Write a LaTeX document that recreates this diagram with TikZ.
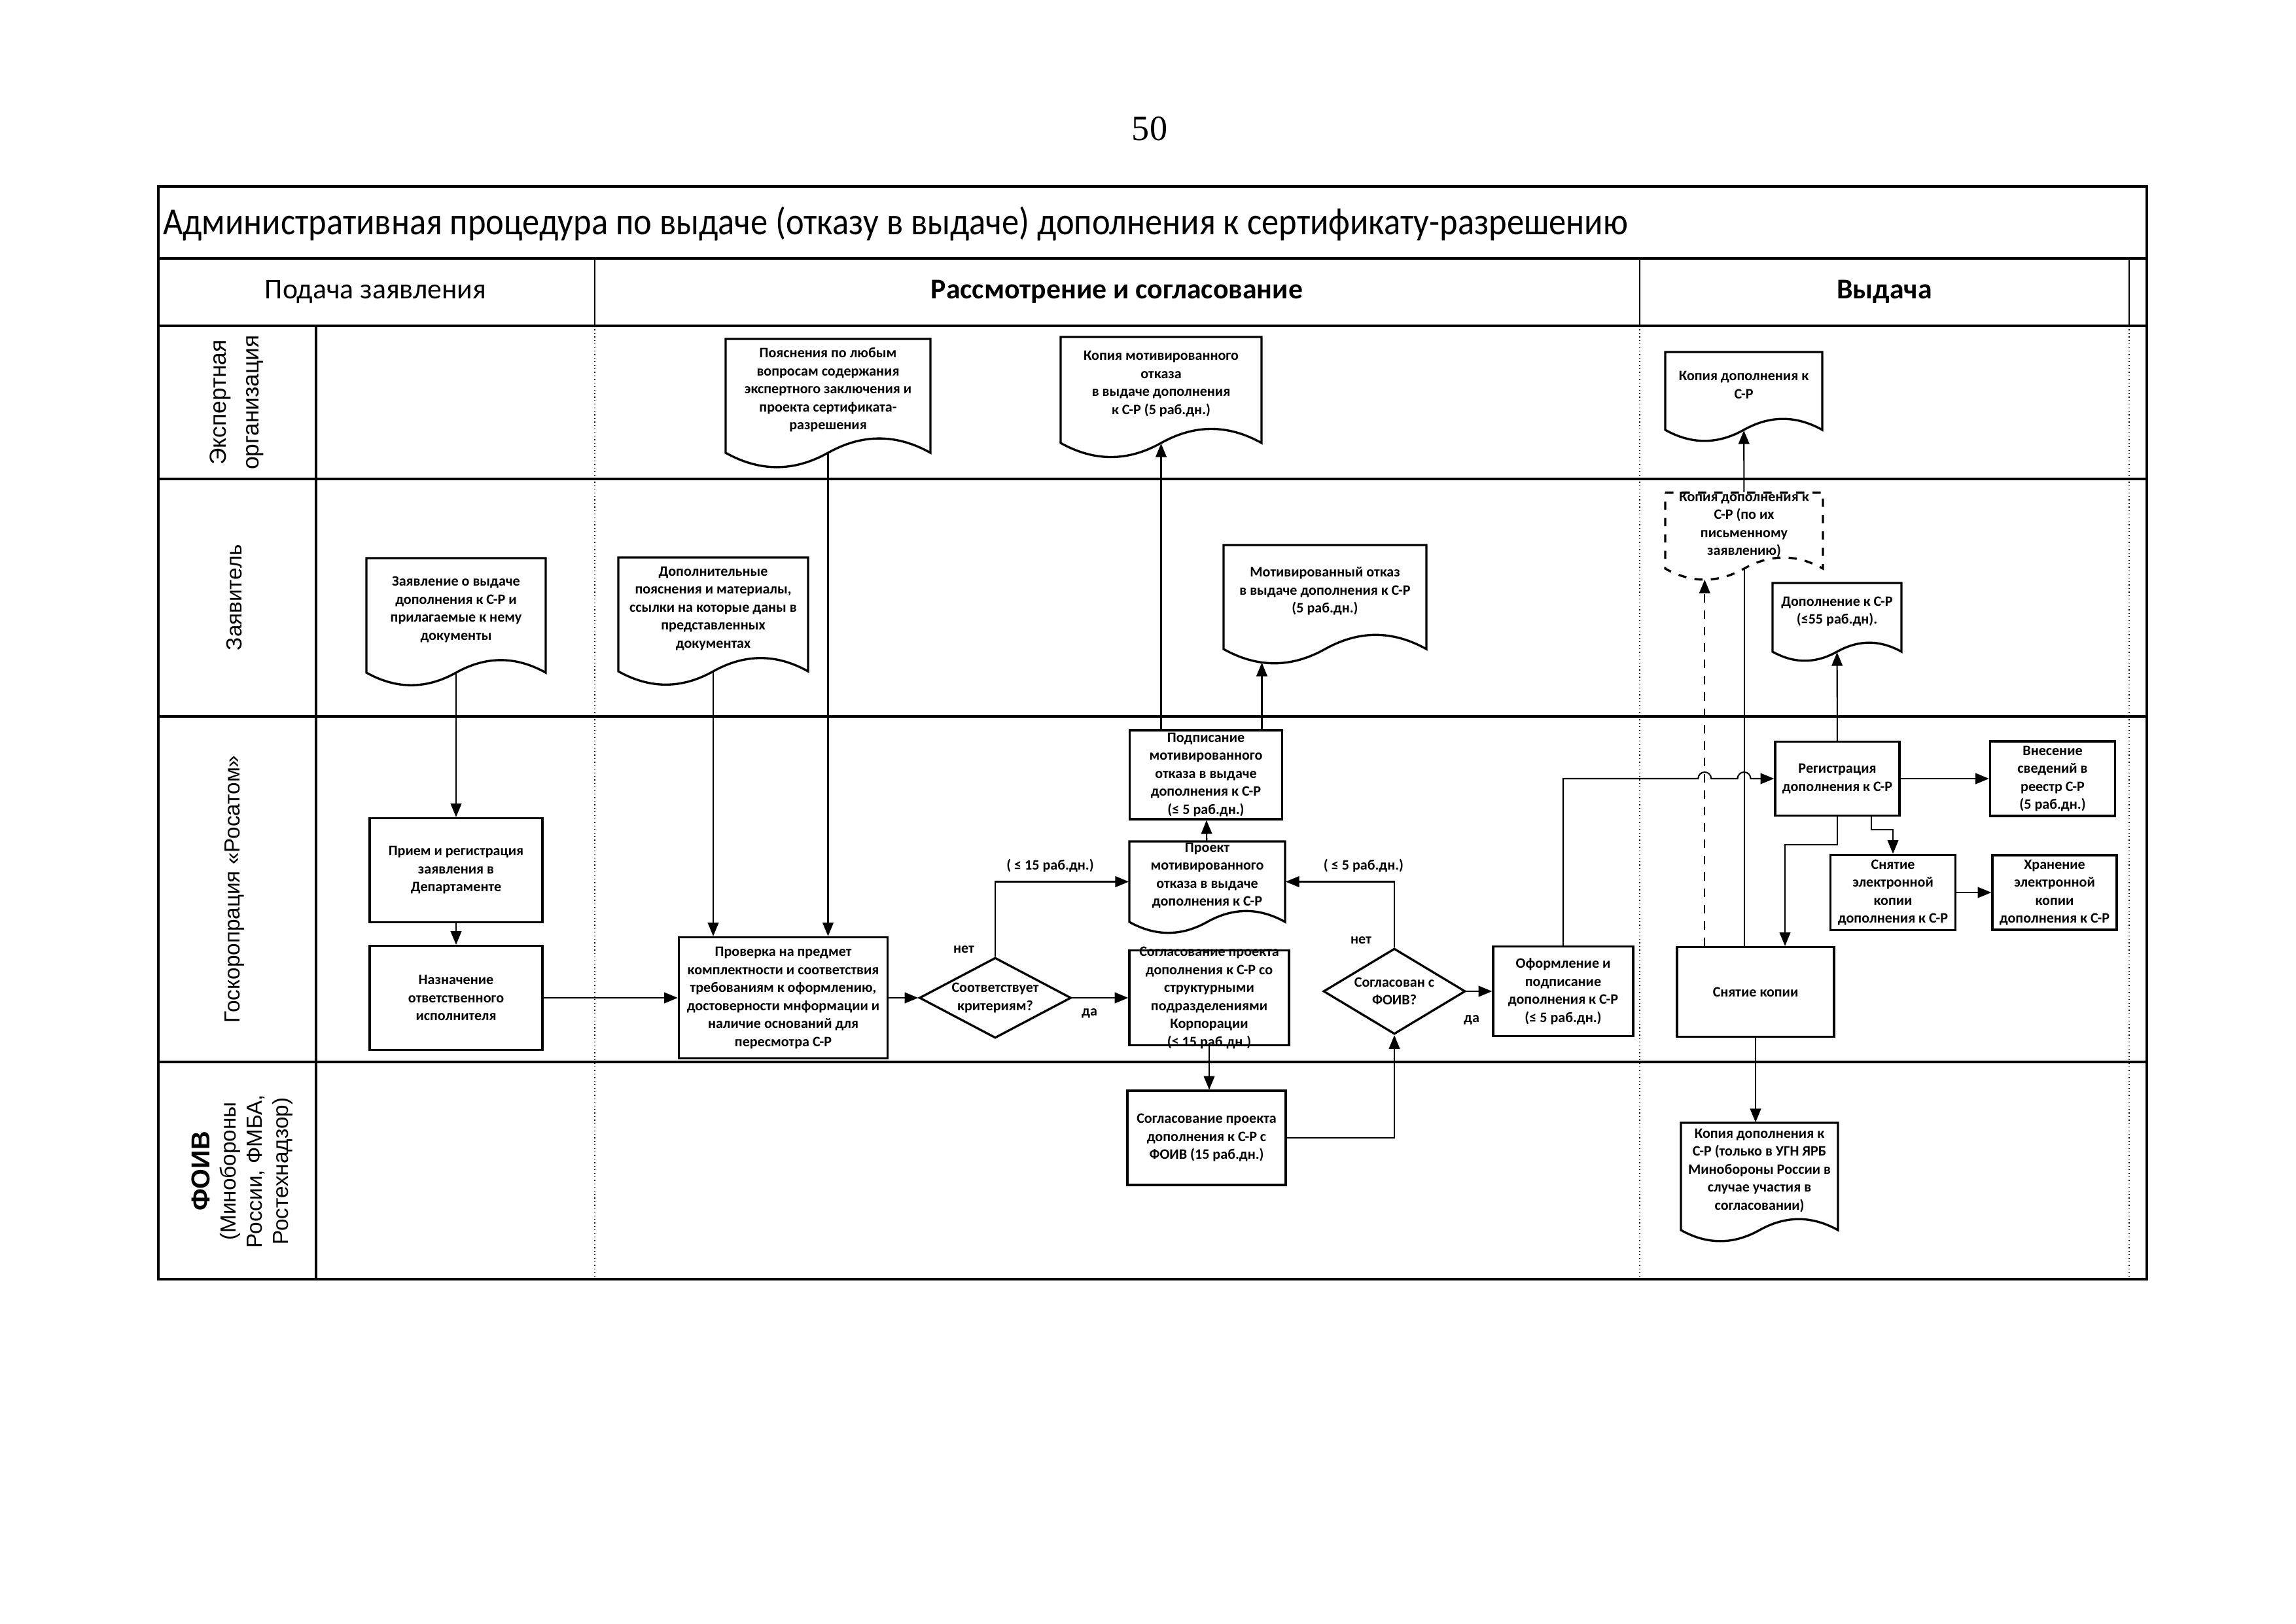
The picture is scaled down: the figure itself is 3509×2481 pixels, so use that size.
\documentclass[tikz,border=0pt]{standalone}
\usepackage{fontspec}
\setmainfont{Carlito}
\newfontfamily\titlefont[FakeStretch=0.9]{Carlito}
\newfontfamily\lanefont{Liberation Sans}
\newfontfamily\pagefont{Liberation Serif}
\usetikzlibrary{shapes.geometric,arrows.meta,calc}

\newcommand\pxu{0.24pt}
\newcommand\boxfont{\fontsize{5.3}{6.6}\selectfont\bfseries}

%% document shape: outline with wavy bottom, then a named node over it
\newcommand\docnode[7][]{%
  \pgfmathsetmacro\wamp{0.07*#5}%
  \draw[docline,#1] (#3,#4) -- ({#3+#5},#4) -- ({#3+#5},{#4+#6})
    .. controls ({#3+#5*5/6},{#4+#6-4/3*\wamp}) and ({#3+#5*2/3},{#4+#6-4/3*\wamp}) .. ({#3+#5/2},{#4+#6})
    .. controls ({#3+#5/3},{#4+#6+4/3*\wamp}) and ({#3+#5/6},{#4+#6+4/3*\wamp}) .. (#3,{#4+#6}) -- cycle;
  \node[docarea, minimum width=#5*\pxu, minimum height=#6*\pxu,
    label={[doctext]center:{#7}}] (#2) at ({#3+#5/2},{#4+#6/2}) {};
  \coordinate (#2-trough) at ({#3+#5/4},{#4+#6+\wamp});
}

\begin{document}
\begin{tikzpicture}
[x=\pxu, y=-\pxu,
  frame/.style={line width=1pt},
  thinline/.style={line width=0.4pt},
  dotline/.style={line width=0.3pt, densely dotted},
  procbox/.style={draw, line width=0.8pt, fill=white, align=center, font=\boxfont, inner xsep=1pt, inner ysep=-4pt},
  decision/.style={draw, diamond, line width=0.8pt, fill=white, inner sep=0pt},
  docline/.style={draw, line width=0.8pt, fill=white},
  docarea/.style={inner sep=0pt},
  doctext/.style={align=center, font=\boxfont, inner sep=0pt, yshift=2.2pt},
  boxlabel/.style={align=center, font=\boxfont, inner sep=0pt},
  lanelbl/.style={rotate=90, align=center, font=\lanefont\fontsize{8}{9.6}\selectfont},
  arr/.style={-{Triangle[length=5pt,width=4pt]}, line width=0.5pt}]
\useasboundingbox (0,0) rectangle (3509,2481);

%% page number, title and phases
\node[font=\pagefont\fontsize{13}{15}\selectfont] (pagenum) at (1757,197) {50};
\draw[frame] (242,285) rectangle (3281,1955);
\foreach \y in {395, 498, 732, 1095, 1623} {
  \draw[frame] (242,\y) -- (3281,\y);
}
\draw[frame] (483,498) -- (483,1955);
\foreach \x in {909, 2506, 3254} {
  \draw[thinline] (\x,395) -- (\x,498);
  \draw[dotline] (\x,498) -- (\x,1955);
}
\node[anchor=west, inner xsep=1pt, font=\titlefont\fontsize{14}{16}\selectfont] (title) at (244,342)
  {Административная процедура по выдаче (отказу в выдаче) дополнения к сертификату-разрешению};
\node[font=\fontsize{10.5}{12}\selectfont] (ph1) at (574,446) {Подача заявления};
\node[font=\fontsize{10.5}{12}\selectfont\bfseries] (ph2) at (1707,446) {Рассмотрение и согласование};
\node[font=\fontsize{10.5}{12}\selectfont\bfseries] (ph3) at (2880,446) {Выдача};

%% lanes
\node[lanelbl, font=\lanefont\fontsize{8.5}{12}\selectfont] (lexp) at (362,615) {Экспертная\\организация};
\node[lanelbl] (lzay) at (358,913) {Заявитель};
\node[lanelbl] (lgos) at (358,1359) {Госкоропрация «Росатом»};
\node[lanelbl] (lfoiv) at (370,1790)
  {{\bfseries\fontsize{9.5}{10}\selectfont ФОИВ}\\(Минобороны\\России, ФМБА,\\Ростехнадзор)};

%% documents
\foreach \nodename/\x/\y/\w/\h/\txt in {
  poyas/1109/518/313/174/{Пояснения по любым\\вопросам содержания\\экспертного заключения и\\проекта сертификата-\\разрешения},
  kopotk/1621/515/307/162/{Копия мотивированного\\отказа\\в выдаче дополнения\\к С-Р (5 раб.дн.)},
  kopdop/2545/538/240/119/{Копия дополнения к\\С-Р},
  zayav/560/853/274/175/{Заявление о  выдаче\\дополнения к С-Р и\\прилагаемые к нему\\документы},
  dopmat/945/852/290/174/{Дополнительные\\пояснения и материалы,\\ссылки на которые даны в\\представленных\\документах},
  mototk/1870/833/310/159/{Мотивированный отказ\\в выдаче дополнения к С-Р\\(5 раб.дн.)},
  dopcr/2709/891/197/105/{Дополнение к С-Р\\(≤55 раб.дн).},
  proekt/1726/1286/238/123/{Проект\\мотивированного\\отказа в выдаче\\дополнения к С-Р},
  kopfoiv/2569/1716/240/164/{Копия дополнения к\\С-Р (только в УГН ЯРБ\\Минобороны России в\\случае участия в\\согласовании)}} {
  \docnode{\nodename}{\x}{\y}{\w}{\h}{\txt}
}
\docnode[dashed]{kopzay}{2545}{753}{241}{116}{Копия дополнения к\\С-Р (по их\\письменному\\заявлению)}
\coordinate (mototk-in) at ($(mototk-trough)+(-19,-1)$);

%% process boxes
\foreach \nodename/\x/\y/\w/\h/\txt in {
  priem/697/1330/264/159/{Прием и регистрация\\заявления в\\Департаменте},
  naznach/697/1525/264/159/{Назначение\\ответственного\\исполнителя},
  prov/1197/1525/319/185/{Проверка на предмет\\комплектности и соответствия\\требованиям к оформлению,\\достоверности мнформации и\\наличие оснований для\\пересмотра С-Р},
  podp/1843/1184/233/136/{Подписание\\мотивированного\\отказа в выдаче\\дополнения к С-Р\\(≤ 5 раб.дн.)},
  soglstr/1848/1525/244/145/{Согласование проекта\\дополнения к С-Р со\\структурными\\подразделениями\\Корпорации\\(≤ 15 раб.дн.)},
  soglfoiv/1844/1739/242/144/{Согласование проекта\\дополнения к С-Р с\\ФОИВ (15 раб.дн.)},
  oform/2389/1515/214/137/{Оформление и\\подписание\\дополнения к С-Р\\(≤ 5 раб.дн.)},
  reg/2808/1190/190/113/{Регистрация\\дополнения к С-Р},
  vnes/3137/1190/191/114/{Внесение\\сведений в\\реестр С-Р\\(5 раб.дн.)},
  snel/2893/1364/191/115/{Снятие\\электронной\\копии\\дополнения к С-Р},
  hran/3140/1364/190/114/{Хранение\\электронной\\копии\\дополнения к С-Р},
  snkop/2683/1516/240/137/{Снятие копии}} {
  \node[procbox, minimum width=\w*\pxu, minimum height=\h*\pxu] (\nodename) at (\x,\y) {\txt};
}

%% decisions
\node[decision, minimum width=232*\pxu, minimum height=123*\pxu,
  label={[boxlabel]center:{Соответствует\\критериям?}}] (dia1) at (1521,1525) {};
\node[decision, minimum width=217*\pxu, minimum height=131*\pxu,
  label={[boxlabel]center:{Согласован с\\ФОИВ?}}] (dia2) at (2131,1515) {};

%% connectors
\path
\foreach \startnode/\endnode in {zayav/priem, priem/naznach, naznach/prov, prov/dia1,
  dia1/soglstr, proekt/podp, dia2/oform, reg/vnes, snel/hran, kopzay/kopdop, reg/dopcr} {
  (\startnode) edge[arr] (\endnode)
};
\draw[arr] (dopmat.south) -- (dopmat.south |- prov.north);
\draw[arr] (poyas.south) -- (poyas.south |- prov.north);
\draw[arr] (kopotk.south |- podp.north) -- (kopotk.south);
\draw[arr] (mototk-in |- podp.north) -- (mototk-in);
\draw[arr] (dia1.north) |- (proekt.west);
\draw[arr] (dia2.north) |- (proekt.east);
\draw[arr] (soglstr.south) -- (soglstr.south |- soglfoiv.north);
\draw[arr] (soglfoiv.east) -| (dia2.south);
\draw[arr] (oform.north) |- ($(kopzay-trough |- reg.west)+(-10,0)$)
  arc[start angle=180, end angle=0, radius=10*\pxu]
  -- ($(kopzay.south |- reg.west)+(-10,0)$)
  arc[start angle=180, end angle=0, radius=10*\pxu] -- (reg.west);
\draw[arr] (reg.south) -- ++(0,43) -| ($(snkop.north)+(45,0)$);
\draw[arr] ($(reg.south)+(52,0)$) -- ++(0,20) -| (snel.north);
\draw[arr] (snkop.south) -- (snkop.south |- kopfoiv.north);
\draw[arr, dashed] (kopzay-trough |- snkop.north) -- (kopzay-trough);
\draw[line width=0.5pt] (kopzay.south |- snkop.north) -- (kopzay.south);

%% branch labels
\node[boxlabel] (t15) at (1605,1323) {( ≤ 15 раб.дн.)};
\node[boxlabel] (t5) at (2084,1323) {( ≤ 5 раб.дн.)};
\node[boxlabel] (no1) at (1473,1451) {нет};
\node[boxlabel] (no2) at (2080,1437) {нет};
\node[boxlabel] (yes1) at (1665,1549) {да};
\node[boxlabel] (yes2) at (2249,1559) {да};
\end{tikzpicture}
\end{document}
